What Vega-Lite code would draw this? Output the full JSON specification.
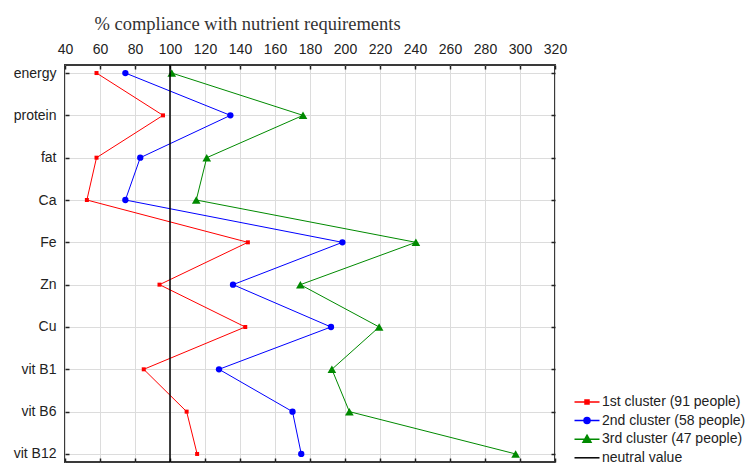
{
  "$schema": "https://vega.github.io/schema/vega-lite/v6.json",
  "width": 490,
  "height": 397,
  "autosize": {"type": "none"},
  "padding": {"left": 65, "top": 65, "right": 193, "bottom": 2},
  "background": "white",
  "config": {
    "font": "Liberation Sans",
    "view": {"stroke": "#3a3a3a", "strokeWidth": 2},
    "axis": {"labelFont": "Liberation Sans", "labelFontSize": 14, "labelColor": "#222", "tickColor": "#222", "tickWidth": 1.5, "gridColor": "#dcdcdc", "gridWidth": 1, "domain": false, "labelOverlap": false, "labelFlush": false}
  },
  "datasets": {
    "rows": [
      {"nutrient": "energy", "k": 1, "cluster": "1st cluster (91 people)", "value": 58},
      {"nutrient": "protein", "k": 2, "cluster": "1st cluster (91 people)", "value": 96},
      {"nutrient": "fat", "k": 3, "cluster": "1st cluster (91 people)", "value": 58},
      {"nutrient": "Ca", "k": 4, "cluster": "1st cluster (91 people)", "value": 52.5},
      {"nutrient": "Fe", "k": 5, "cluster": "1st cluster (91 people)", "value": 144.5},
      {"nutrient": "Zn", "k": 6, "cluster": "1st cluster (91 people)", "value": 94},
      {"nutrient": "Cu", "k": 7, "cluster": "1st cluster (91 people)", "value": 143},
      {"nutrient": "vit B1", "k": 8, "cluster": "1st cluster (91 people)", "value": 85},
      {"nutrient": "vit B6", "k": 9, "cluster": "1st cluster (91 people)", "value": 109.5},
      {"nutrient": "vit B12", "k": 10, "cluster": "1st cluster (91 people)", "value": 115.5},
      {"nutrient": "energy", "k": 1, "cluster": "2nd cluster (58 people)", "value": 74.5},
      {"nutrient": "protein", "k": 2, "cluster": "2nd cluster (58 people)", "value": 134.5},
      {"nutrient": "fat", "k": 3, "cluster": "2nd cluster (58 people)", "value": 83},
      {"nutrient": "Ca", "k": 4, "cluster": "2nd cluster (58 people)", "value": 74.5},
      {"nutrient": "Fe", "k": 5, "cluster": "2nd cluster (58 people)", "value": 198.5},
      {"nutrient": "Zn", "k": 6, "cluster": "2nd cluster (58 people)", "value": 136},
      {"nutrient": "Cu", "k": 7, "cluster": "2nd cluster (58 people)", "value": 192},
      {"nutrient": "vit B1", "k": 8, "cluster": "2nd cluster (58 people)", "value": 128},
      {"nutrient": "vit B6", "k": 9, "cluster": "2nd cluster (58 people)", "value": 170},
      {"nutrient": "vit B12", "k": 10, "cluster": "2nd cluster (58 people)", "value": 175},
      {"nutrient": "energy", "k": 1, "cluster": "3rd cluster (47 people)", "value": 101},
      {"nutrient": "protein", "k": 2, "cluster": "3rd cluster (47 people)", "value": 176},
      {"nutrient": "fat", "k": 3, "cluster": "3rd cluster (47 people)", "value": 121},
      {"nutrient": "Ca", "k": 4, "cluster": "3rd cluster (47 people)", "value": 115},
      {"nutrient": "Fe", "k": 5, "cluster": "3rd cluster (47 people)", "value": 240.5},
      {"nutrient": "Zn", "k": 6, "cluster": "3rd cluster (47 people)", "value": 174.5},
      {"nutrient": "Cu", "k": 7, "cluster": "3rd cluster (47 people)", "value": 219.5},
      {"nutrient": "vit B1", "k": 8, "cluster": "3rd cluster (47 people)", "value": 192.5},
      {"nutrient": "vit B6", "k": 9, "cluster": "3rd cluster (47 people)", "value": 202.5},
      {"nutrient": "vit B12", "k": 10, "cluster": "3rd cluster (47 people)", "value": 297.5}
    ],
    "neutral": [{"v": 100, "c": "neutral value"}]
  },
  "resolve": {"axis": {"x": "independent", "y": "independent"}},
  "layer": [
    {
      "data": {"name": "rows"},
      "mark": {"type": "line", "strokeWidth": 1},
      "encoding": {
        "x": {"field": "value", "type": "quantitative",
          "scale": {"domain": [40, 320], "nice": false, "zero": false},
          "axis": {"orient": "top", "values": [40, 60, 80, 100, 120, 140, 160, 180, 200, 220, 240, 260, 280, 300, 320],
            "grid": true, "tickSize": -4, "labelPadding": 13, "title": "% compliance with nutrient requirements",
            "titleFont": "Liberation Serif", "titleFontSize": 18.5, "titleFontWeight": "normal", "titleColor": "#333",
            "titleX": 182, "titleY": -36, "titleBaseline": "alphabetic", "titleAlign": "center"}},
        "y": {"field": "nutrient", "type": "nominal",
          "sort": ["energy", "protein", "fat", "Ca", "Fe", "Zn", "Cu", "vit B1", "vit B6", "vit B12"],
          "scale": {"padding": 0.19},
          "axis": {"orient": "left", "title": null, "grid": true, "tickSize": -4, "labelPadding": 13}},
        "order": {"field": "k", "type": "quantitative"},
        "color": {"field": "cluster", "type": "nominal",
          "scale": {"domain": ["1st cluster (91 people)", "2nd cluster (58 people)", "3rd cluster (47 people)", "neutral value"],
            "range": ["#ff0000", "#0000ff", "#008a00", "#000000"]},
          "legend": {"orient": "none", "legendX": 515, "legendY": 330, "title": null, "padding": 0,
            "symbolSize": 100, "symbolStrokeWidth": 1.5, "labelFontSize": 14, "labelColor": "#222", "labelOffset": 8, "rowPadding": 4.6,
            "labelFont": "Liberation Sans",
            "encode": {"symbols": {"update": {
              "shape": {"signal": "datum.value == '1st cluster (91 people)' ? 'M-2.5,0H2.5M-0.4,-0.4H0.4V0.4H-0.4Z' : datum.value == '2nd cluster (58 people)' ? 'M-2.5,0H2.5M-0.6,0A0.6,0.6 0 1,0 0.6,0A0.6,0.6 0 1,0 -0.6,0Z' : datum.value == '3rd cluster (47 people)' ? 'M-2.5,0H2.5M0,-0.8L0.8,0.6H-0.8Z' : 'M-2.5,0H2.5'"},
              "fill": {"scale": "color", "field": "value"}
            }}}}}
      }
    },
    {
      "data": {"name": "rows"},
      "transform": [{"filter": "datum.cluster == '1st cluster (91 people)'"}],
      "mark": {"type": "point", "filled": true, "opacity": 1, "shape": "square", "size": 16},
      "encoding": {
        "x": {"field": "value", "type": "quantitative", "axis": null},
        "y": {"field": "nutrient", "type": "nominal",
          "sort": ["energy", "protein", "fat", "Ca", "Fe", "Zn", "Cu", "vit B1", "vit B6", "vit B12"],
          "axis": {"orient": "right", "title": null, "labels": false, "grid": false, "tickSize": -4}},
        "color": {"field": "cluster", "type": "nominal"}
      }
    },
    {
      "data": {"name": "rows"},
      "transform": [{"filter": "datum.cluster == '2nd cluster (58 people)'"}],
      "mark": {"type": "point", "filled": true, "opacity": 1, "shape": "circle", "size": 40},
      "encoding": {
        "x": {"field": "value", "type": "quantitative", "axis": null},
        "y": {"field": "nutrient", "type": "nominal",
          "sort": ["energy", "protein", "fat", "Ca", "Fe", "Zn", "Cu", "vit B1", "vit B6", "vit B12"], "axis": null},
        "color": {"field": "cluster", "type": "nominal"}
      }
    },
    {
      "data": {"name": "rows"},
      "transform": [{"filter": "datum.cluster == '3rd cluster (47 people)'"}],
      "mark": {"type": "point", "filled": true, "opacity": 1, "shape": "triangle-up", "size": 75},
      "encoding": {
        "x": {"field": "value", "type": "quantitative", "axis": null},
        "y": {"field": "nutrient", "type": "nominal",
          "sort": ["energy", "protein", "fat", "Ca", "Fe", "Zn", "Cu", "vit B1", "vit B6", "vit B12"], "axis": null},
        "color": {"field": "cluster", "type": "nominal"}
      }
    },
    {
      "data": {"name": "neutral"},
      "mark": {"type": "rule", "strokeWidth": 1.5},
      "encoding": {
        "x": {"field": "v", "type": "quantitative",
          "axis": {"orient": "bottom", "title": null, "labels": false, "grid": false, "tickSize": -4,
            "values": [40, 60, 80, 100, 120, 140, 160, 180, 200, 220, 240, 260, 280, 300, 320]}},
        "color": {"field": "c", "type": "nominal"}
      }
    }
  ]
}
